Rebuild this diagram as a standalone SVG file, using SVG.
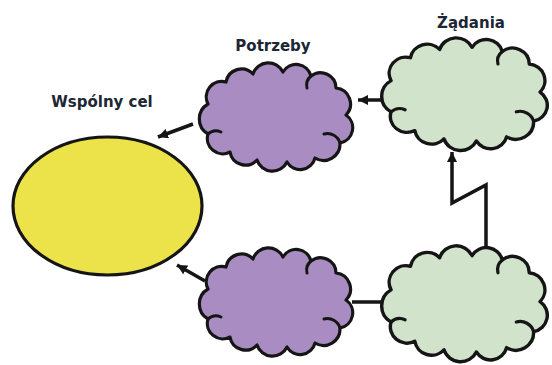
<svg xmlns="http://www.w3.org/2000/svg" xmlns:xlink="http://www.w3.org/1999/xlink" width="552" height="365" viewBox="0 0 552 365">
<style>
.lbl{font-family:"DejaVu Sans","Liberation Sans",sans-serif;font-weight:bold;font-size:15px;fill:#1c2634;text-anchor:middle}
.cloud{stroke:#151515;stroke-width:3.2;stroke-linejoin:round;vector-effect:non-scaling-stroke}
.curl{fill:none;stroke:#151515;stroke-width:3;stroke-linecap:round;vector-effect:non-scaling-stroke}
.purple{fill:#A98DC2}
.green{fill:#D1E4CB}
.conn{fill:none;stroke:#151515;stroke-width:3.5;stroke-linejoin:miter}
</style>
<defs>
<marker id="ah" markerUnits="userSpaceOnUse" markerWidth="12" markerHeight="10" refX="10" refY="5" orient="auto">
<path d="M0,0 L10,5 L0,10 Z" fill="#151515"/>
</marker>
<path id="cloudShape" d="M13,41 A15.5,15.5 0 0 1 31,19 A15.7,15.7 0 0 1 58,11 A16.2,16.2 0 0 1 88,9 A15.3,15.3 0 0 1 116,13 A15.5,15.5 0 0 1 141,25 A16,16 0 0 1 151,52 A15.5,15.5 0 0 1 145,80 A16.5,16.5 0 0 1 120,95 A15.3,15.3 0 0 1 92,99 A16.2,16.2 0 0 1 62,97 A15.7,15.7 0 0 1 35,89 A15.4,15.4 0 0 1 13,71 A17.3,17.3 0 0 1 13,41 Z"/>
<g id="curls">
<path d="M145,80 A13,13 0 0 0 129,71"/>
<path d="M13,71 A12,12 0 0 1 26,69"/>
<path d="M116,13 A12,12 0 0 0 112,25"/>
</g>
</defs>

<g id="connectors">
<line class="conn" x1="392" y1="100" x2="358" y2="100" marker-end="url(#ah)"/>
<line class="conn" x1="193" y1="124" x2="158" y2="137" marker-end="url(#ah)"/>
<line class="conn" x1="205" y1="281" x2="177" y2="265" marker-end="url(#ah)"/>
<line class="conn" x1="352" y1="302" x2="382" y2="302"/>
<polyline class="conn" points="486,249 486,185 452,203 452,152" marker-end="url(#ah)"/>
</g>

<g id="cel">
<ellipse cx="107.5" cy="206" rx="94.5" ry="69" fill="#ECE34B" stroke="#151515" stroke-width="3.2"/>
<text class="lbl" x="102" y="107">Wspólny cel</text>
</g>

<g id="potrzeby-top">
<use xlink:href="#cloudShape" class="cloud purple" transform="translate(195,63)"/>
<use xlink:href="#curls" class="curl" transform="translate(195,63)"/>
<text class="lbl" x="273" y="51">Potrzeby</text>
</g>

<g id="zadania-top">
<use xlink:href="#cloudShape" class="cloud green" transform="translate(377,38) scale(1.08,1.04)"/>
<use xlink:href="#curls" class="curl" transform="translate(377,38) scale(1.08,1.04)"/>
<text class="lbl" x="471" y="28">Żądania</text>
</g>

<g id="potrzeby-bottom">
<use xlink:href="#cloudShape" class="cloud purple" transform="translate(195,248)"/>
<use xlink:href="#curls" class="curl" transform="translate(195,248)"/>
</g>

<g id="zadania-bottom">
<use xlink:href="#cloudShape" class="cloud green" transform="translate(377,246) scale(1.08,1.07)"/>
<use xlink:href="#curls" class="curl" transform="translate(377,246) scale(1.08,1.07)"/>
</g>
</svg>
